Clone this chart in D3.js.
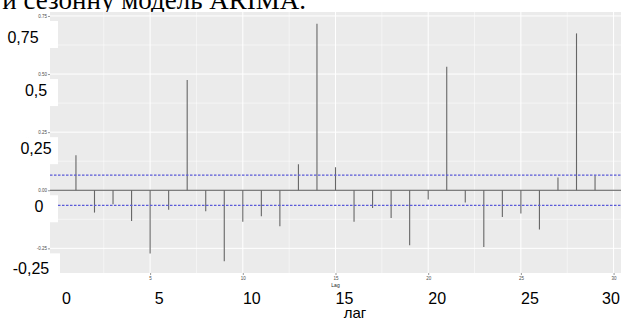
<!DOCTYPE html>
<html>
<head>
<meta charset="utf-8">
<script src="https://cdn.jsdelivr.net/npm/d3@7"></script>
<style>
  html, body { margin: 0; padding: 0; background: #fff; }
  svg { display: block; }
</style>
</head>
<body>
<svg id="acf" width="625" height="322"></svg>
<script>
// ACF values by lag
const lags = d3.range(1, 30);
const acfValues = [
  0.151, -0.096, -0.060, -0.132, -0.272, -0.084, 0.474, -0.090, -0.305, -0.136,
  -0.112, -0.155, 0.112, 0.716, 0.099, -0.136, -0.076, -0.119, -0.237, -0.040,
  0.531, -0.053, -0.244, -0.115, -0.100, -0.169, 0.055, 0.675, 0.063
];
const ciLimit = 0.065;

// small ggplot tick labels
const xTicks = [5, 10, 15, 20, 25, 30];
const yTicks = [-0.25, 0, 0.25, 0.5, 0.75];
const yTickLabels = ["-0.25", "0.00", "0.25", "0.50", "0.75"];

// large labels pasted over the plot
const bigYValues = [0.75, 0.5, 0.25, 0, -0.25];
const bigYLabels = ["0,75", "0,5", "0,25", "0", "-0,25"];
const bigXValues = [0, 5, 10, 15, 20, 25, 30];
const bigXLabels = ["0", "5", "10", "15", "20", "25", "30"];

const svg = d3.select("#acf");
const panel = { left: 50, right: 621, top: 12, bottom: 273 };

const data = lags.map((lag, i) => ({ lag, value: acfValues[i] }));

const x = d3.scaleLinear()
  .domain([-0.4, 30.4])
  .range([panel.left, panel.right]);

const yMin = d3.min(acfValues), yMax = d3.max(acfValues);
const pad = (yMax - yMin) * 0.05;
const y = d3.scaleLinear()
  .domain([yMin - pad, yMax + pad])
  .range([panel.bottom, panel.top]);

// heading text cut off at the top
svg.append("text")
  .attr("x", 306)
  .attr("y", 9)
  .attr("text-anchor", "end")
  .style("font-family", "'Liberation Serif', 'Times New Roman', serif")
  .style("font-size", "27px")
  .attr("fill", "#000")
  .text("використати сезонну модель ARIMA.");

// panel background
svg.append("rect")
  .attr("x", panel.left)
  .attr("y", panel.top)
  .attr("width", panel.right - panel.left)
  .attr("height", panel.bottom - panel.top)
  .attr("fill", "#ebebeb");

// grid
const yMinor = [0.625, 0.375, 0.125, -0.125];
const xMinor = [2.5, 7.5, 12.5, 17.5, 22.5, 27.5];
const grid = svg.append("g");
grid.selectAll(".ymin").data(yMinor).join("line")
  .attr("x1", panel.left).attr("x2", panel.right)
  .attr("y1", d => y(d)).attr("y2", d => y(d))
  .attr("stroke", "#fff").attr("stroke-width", 0.5);
grid.selectAll(".xmin").data(xMinor).join("line")
  .attr("y1", panel.top).attr("y2", panel.bottom)
  .attr("x1", d => x(d)).attr("x2", d => x(d))
  .attr("stroke", "#fff").attr("stroke-width", 0.5);
grid.selectAll(".ymaj").data(yTicks).join("line")
  .attr("x1", panel.left).attr("x2", panel.right)
  .attr("y1", d => y(d)).attr("y2", d => y(d))
  .attr("stroke", "#fff").attr("stroke-width", 1);
grid.selectAll(".xmaj").data(xTicks).join("line")
  .attr("y1", panel.top).attr("y2", panel.bottom)
  .attr("x1", d => x(d)).attr("x2", d => x(d))
  .attr("stroke", "#fff").attr("stroke-width", 1);

// zero line
svg.append("line")
  .attr("x1", panel.left).attr("x2", panel.right)
  .attr("y1", y(0)).attr("y2", y(0))
  .attr("stroke", "#555").attr("stroke-width", 1);

// bars
svg.append("g").selectAll("line").data(data).join("line")
  .attr("x1", d => x(d.lag)).attr("x2", d => x(d.lag))
  .attr("y1", y(0)).attr("y2", d => y(d.value))
  .attr("stroke", "#666").attr("stroke-width", 1.1);

// confidence limits
svg.append("g").selectAll("line").data([ciLimit, -ciLimit]).join("line")
  .attr("x1", panel.left).attr("x2", panel.right)
  .attr("y1", d => y(d)).attr("y2", d => y(d))
  .attr("stroke", "#5a5ad8").attr("stroke-width", 1.3)
  .attr("stroke-dasharray", "2.5,1.5");

// small axes
const xAxis = svg.append("g")
  .attr("transform", `translate(0,${panel.bottom})`)
  .call(d3.axisBottom(x).tickValues(xTicks).tickSize(2).tickPadding(2).tickFormat(d3.format("d")));
const yAxis = svg.append("g")
  .attr("transform", `translate(${panel.left},0)`)
  .call(d3.axisLeft(y).tickValues(yTicks).tickSize(2).tickPadding(1)
    .tickFormat((d, i) => yTickLabels[i]));
[xAxis, yAxis].forEach(g => {
  g.select(".domain").remove();
  g.selectAll(".tick line").attr("stroke", "#333").attr("stroke-width", 0.5);
  g.selectAll(".tick text")
    .attr("fill", "#4d4d4d")
    .style("font-family", "Liberation Sans, Arial, sans-serif")
    .style("font-size", "4.5px");
});

svg.append("text")
  .attr("x", (panel.left + panel.right) / 2)
  .attr("y", 287)
  .attr("text-anchor", "middle")
  .style("font-family", "Liberation Sans, Arial, sans-serif")
  .style("font-size", "5px")
  .attr("fill", "#222")
  .text("Lag");

svg.append("text")
  .attr("transform", `translate(30,${(panel.top + panel.bottom) / 2}) rotate(-90)`)
  .attr("text-anchor", "middle")
  .style("font-family", "Liberation Sans, Arial, sans-serif")
  .style("font-size", "5px")
  .attr("fill", "#222")
  .text("ACF");

// white patches with the big y labels
const bigYNudge = [23, 36, 36, 39, 31];
const over = svg.append("g");
over.selectAll("rect").data(bigYValues).join("rect")
  .attr("x", 0)
  .attr("y", d => y(d) + 5)
  .attr("width", (d, i) => i === 4 ? 60 : 58)
  .attr("height", d => Math.min(27, panel.bottom - (y(d) + 5)))
  .attr("fill", "#fff");
over.selectAll("text").data(bigYValues).join("text")
  .attr("x", (d, i) => bigYNudge[i])
  .attr("y", (d, i) => y(d) + (i === 0 ? 27 : i === 4 ? 26 : 22))
  .attr("text-anchor", "middle")
  .style("font-family", "Liberation Sans, Arial, sans-serif")
  .style("font-size", "16px")
  .attr("fill", "#000")
  .text((d, i) => bigYLabels[i]);

// big x labels
svg.append("g").selectAll("text").data(bigXValues).join("text")
  .attr("x", d => Math.min(x(d) + 9, 611))
  .attr("y", 304)
  .attr("text-anchor", "middle")
  .style("font-family", "Liberation Sans, Arial, sans-serif")
  .style("font-size", "16px")
  .attr("fill", "#000")
  .text((d, i) => bigXLabels[i]);

svg.append("text")
  .attr("x", 355)
  .attr("y", 318)
  .attr("text-anchor", "middle")
  .style("font-family", "Liberation Sans, Arial, sans-serif")
  .style("font-size", "15px")
  .attr("fill", "#000")
  .text("лаг");
</script>
</body>
</html>
